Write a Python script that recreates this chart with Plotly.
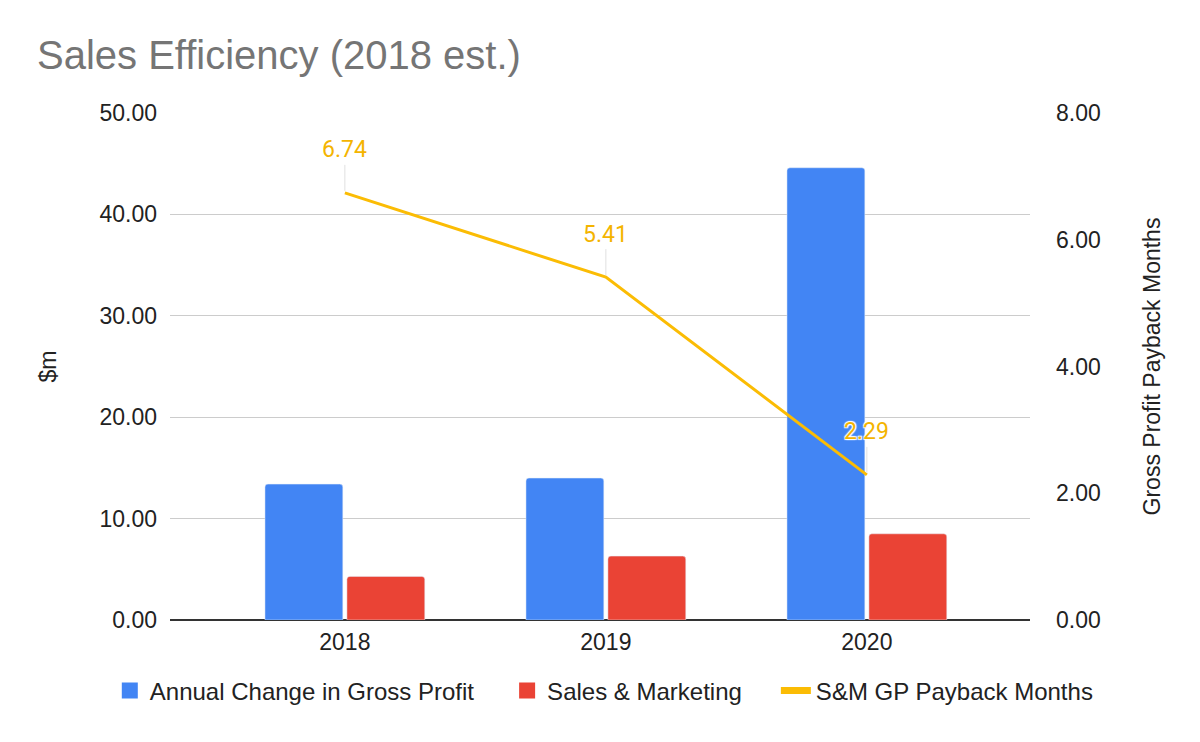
import plotly.graph_objects as go

years = ["2018", "2019", "2020"]
gp_change = [13.4, 14.0, 44.6]
sales_marketing = [4.3, 6.3, 8.5]
payback_months = [6.74, 5.41, 2.29]

names = ["Annual Change in Gross Profit", "Sales & Marketing", "S&M GP Payback Months"]

BLUE = "#4285F4"
RED = "#EA4335"
YELLOW = "#FBBC04"
FONT = "Liberation Sans, Arial, sans-serif"

fig = go.Figure()

fig.add_trace(go.Bar(x=years, y=gp_change, name=names[0],
                     marker=dict(color=BLUE), showlegend=False))
fig.add_trace(go.Bar(x=years, y=sales_marketing, name=names[1],
                     marker=dict(color=RED), showlegend=False))
fig.add_trace(go.Scatter(x=years, y=payback_months, name=names[2],
                         mode="lines", line=dict(color=YELLOW, width=3),
                         yaxis="y2", showlegend=False))

# legend entries (bigger symbols than plotly's default bar swatch)
fig.add_trace(go.Scatter(x=[None], y=[None], name=names[0], mode="markers",
                         marker=dict(symbol="square", size=16, color=BLUE),
                         legend="legend"))
fig.add_trace(go.Scatter(x=[None], y=[None], name=names[1], mode="markers",
                         marker=dict(symbol="square", size=16, color=RED),
                         legend="legend2"))
fig.add_trace(go.Scatter(x=[None], y=[None], name=names[2], mode="lines",
                         line=dict(color=YELLOW, width=7), legend="legend3"))

# value labels with thin leader lines; the last one sits on a bar, so it
# gets a white halo
halo = "1px 1px 1px #fff, -1px -1px 1px #fff, 1px -1px 1px #fff, -1px 1px 1px #fff"
for i, v in enumerate(payback_months):
    lab_font = dict(family="Roboto, sans-serif", size=23, color="#F4B400")
    if i == len(payback_months) - 1:
        lab_font["shadow"] = halo
    fig.add_annotation(
        x=i, y=v, xref="x", yref="y2", text=f"{v:.2f}",
        showarrow=True, arrowhead=0, arrowwidth=1, arrowcolor="#e0e0e0",
        ax=0, ay=-43, standoff=2, font=lab_font,
    )

leg = dict(orientation="h", y=-0.14, yanchor="middle", xanchor="left",
           font=dict(size=24, color="#222222"), bgcolor="rgba(0,0,0,0)")

fig.update_layout(
    width=1192, height=734,
    margin=dict(l=162, r=170, t=105, b=122),
    paper_bgcolor="white", plot_bgcolor="white",
    font=dict(family=FONT, size=23, color="#222222"),
    title=dict(text="Sales Efficiency (2018 est.)", x=0.0243, xanchor="left",
               y=0.936, yanchor="middle",
               font=dict(family=FONT, size=40, color="#757575")),
    barmode="group", bargap=0.372, bargroupgap=0.05, barcornerradius=3,
    xaxis=dict(type="category", range=[-0.67, 2.625], showgrid=False,
               showline=False, ticks="", ticklabelstandoff=6,
               tickfont=dict(size=23, color="#222222")),
    yaxis=dict(range=[0, 50], dtick=10, tickformat=".2f", showgrid=True,
               gridcolor="#cccccc", gridwidth=1, zeroline=True,
               zerolinecolor="#333333", zerolinewidth=2, ticks="",
               ticklabelstandoff=12, showline=False,
               title=dict(text="$m", standoff=36, font=dict(size=23))),
    yaxis2=dict(range=[0, 8], dtick=2, tickformat=".2f", overlaying="y",
                side="right", showgrid=False, zeroline=False, ticks="",
                ticklabelstandoff=25, showline=False,
                title=dict(text="Gross Profit Payback Months", standoff=44,
                           font=dict(size=23))),
    legend=dict(leg, x=-0.070),
    legend2=dict(leg, x=0.392),
    legend3=dict(leg, x=0.7045),
)

fig.write_html("out.html")
